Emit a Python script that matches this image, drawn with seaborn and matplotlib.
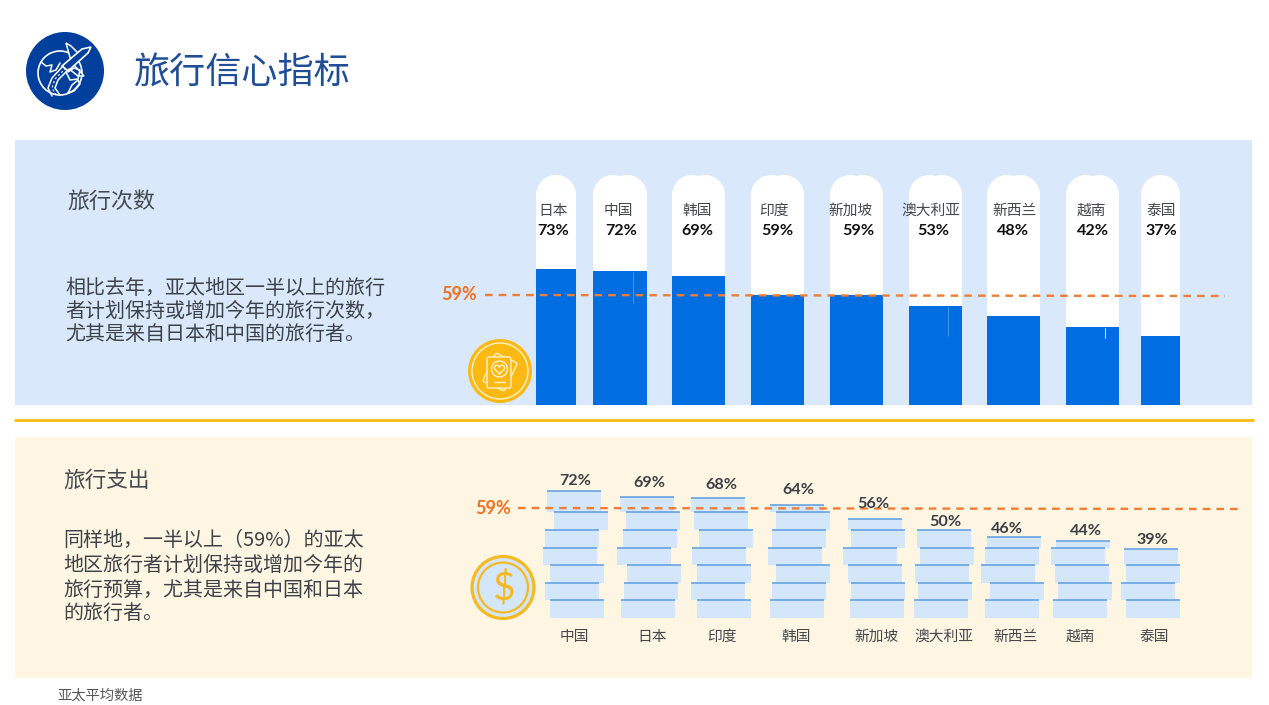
import numpy as np
import pandas as pd
import seaborn as sns
import matplotlib
matplotlib.use('Agg')
import matplotlib.pyplot as plt
from matplotlib.patches import Rectangle, Circle, FancyBboxPatch, Polygon
from matplotlib.transforms import Affine2D

# 旅行次数
trip_countries = ['日本', '中国', '韩国', '印度', '新加坡', '澳大利亚', '新西兰', '越南', '泰国']
trip_values = [73, 72, 69, 59, 59, 53, 48, 42, 37]
# 旅行支出
spend_countries = ['中国', '日本', '印度', '韩国', '新加坡', '澳大利亚', '新西兰', '越南', '泰国']
spend_values = [72, 69, 68, 64, 56, 50, 46, 44, 39]
avg_label = '59%'

# 版面位置（像素）
W, H = 1269, 705
trip_left = [536, 593, 672, 751, 830, 909, 987, 1066, 1141]
trip_right = [576, 647, 725, 804, 883, 962, 1040, 1119, 1180]
trip_name_x = [553, 618, 697, 774, 851, 931, 1015, 1091, 1161]
trip_pct_x = [553, 621, 697, 777, 858, 933, 1013, 1093, 1161]
# 每本书的左边缘，从下往上
book_left = [
    [550, 545, 550, 543, 545, 554, 547],
    [621, 624, 627, 617, 623, 626, 620],
    [697, 691, 697, 692, 699, 694, 691],
    [770, 772, 776, 768, 772, 776, 770],
    [850, 851, 848, 843, 851, 848],
    [914, 918, 915, 920, 917],
    [985, 990, 981, 985, 987],
    [1053, 1058, 1055, 1051, 1056],
    [1126, 1121, 1126, 1124],
]
book_w = 54
book_size = 10
spend_pct_x = [575, 649, 721, 798, 873, 945, 1007, 1086, 1152]
spend_pct_y = [481, 483, 485, 490, 504, 522, 529, 531, 540]
spend_name_x = [574, 652, 722, 796, 877, 944, 1016, 1080, 1154]

BLUE = '#006de0'
BOOK = '#d4e6fa'
BOOK_TOP = '#5c9ce0'
ORANGE = '#f0701e'
DASH = '#ee7d35'
YELLOW = '#fdb913'
NAVY = '#003f9c'
ICON = '#fff2c8'
CJK = ['Noto Sans CJK SC', 'DejaVu Sans']
LATIN = ['Lato', 'DejaVu Sans']

sns.set_theme(style='white')
plt.rcParams['font.family'] = CJK
plt.rcParams['axes.unicode_minus'] = False

fig = plt.figure(figsize=(W / 100, H / 100), dpi=100, facecolor='white')


def px_axes(l, t, r, b, z):
    ax = fig.add_axes([l / W, 1 - b / H, (r - l) / W, (b - t) / H], zorder=z)
    ax.patch.set_alpha(0)
    ax.set_axis_off()
    return ax


# 背景层，像素坐标
bg = px_axes(0, 0, W, H, 0)
bg.set_xlim(0, W)
bg.set_ylim(H, 0)
bg.add_patch(Rectangle((15, 140), 1237, 265, color='#d9e8fa', lw=0))
bg.add_patch(Rectangle((15, 437), 1237, 241, color='#fef6e3', lw=0))
bg.plot([15, 1253], [419.5, 419.5], color=YELLOW, lw=2, zorder=4)


# 白色胶囊，宽的是两个重叠
def capsule(x0, x1):
    r = (x1 - x0) / 2
    bg.add_patch(Circle((x0 + r, 175 + r), r, fc='white', ec='none'))
    bg.add_patch(Rectangle((x0, 175 + r), x1 - x0, 405 - 175 - r, fc='white', ec='none'))


for l, r in zip(trip_left, trip_right):
    if r - l > 45:
        capsule(l, l + 40)
        capsule(r - 40, r)
    else:
        capsule(l, r)

# 旅行次数柱子
px_per_pct = 1.864
top_ax = px_axes(0, 175, W, 405, 1)
trip_df = pd.DataFrame({
    'x': [(l + r) / 2 for l, r in zip(trip_left, trip_right)],
    'value': trip_values,
})
sns.barplot(data=trip_df, x='x', y='value', native_scale=True, color=BLUE,
            saturation=1, linewidth=0, ax=top_ax)
for p, l, r in zip(top_ax.patches, trip_left, trip_right):
    p.set_x(l)
    p.set_width(r - l)
top_ax.set_xlim(0, W)
top_ax.set_ylim(0, 230 / px_per_pct)
top_ax.set_axis_off()

# 旅行支出的书堆
px_per_pct2 = 1.76
base_y = 618
bot_ax = px_axes(0, 470, W, base_y, 1)
for k in range(7):
    idx = [i for i in range(len(spend_values)) if k < len(book_left[i])]
    centres = [book_left[i][k] + book_w / 2 for i in idx]
    # 最上面一本按剩余的百分比画
    heights = [spend_values[i] - k * book_size if k == len(book_left[i]) - 1 else book_size for i in idx]
    n0 = len(bot_ax.patches)
    sns.barplot(x=centres, y=heights, native_scale=True, color=BOOK, saturation=1,
                linewidth=0, ax=bot_ax)
    for p, i, h in zip(bot_ax.patches[n0:], idx, heights):
        p.set_x(book_left[i][k])
        p.set_width(book_w)
        p.set_y(k * book_size)
        bot_ax.plot([book_left[i][k], book_left[i][k] + book_w],
                    [k * book_size + h] * 2, color=BOOK_TOP, lw=1.1, solid_capstyle='butt')
bot_ax.set_xlim(0, W)
bot_ax.set_ylim(0, (base_y - 470) / px_per_pct2)
bot_ax.set_axis_off()

# 上层：文字、虚线、图标
fg = px_axes(0, 0, W, H, 2)
fg.set_xlim(0, W)
fg.set_ylim(H, 0)

fg.plot([485, 1225], [295, 296], color=DASH, lw=1.7, dashes=(3.2, 2.6))
fg.plot([518, 1238], [508, 509], color=DASH, lw=1.7, dashes=(3.2, 2.6))
fg.text(459, 294.5, avg_label, color=ORANGE, fontsize=13, fontweight='bold',
        family=LATIN, ha='center', va='center')
fg.text(493, 508, avg_label, color=ORANGE, fontsize=13, fontweight='bold',
        family=LATIN, ha='center', va='center')

# 柱子上的细缝
for x, y0, y1, c in [(633, 272, 303, '#4d9bec'), (948, 307, 336, '#4d9bec'), (1105, 328, 338, 'white')]:
    fg.plot([x, x], [y0, y1], color=c, lw=0.6)

fg.text(134, 73, '旅行信心指标', color='#1f4e96', fontsize=26, va='center')
fg.text(67, 202, '旅行次数', color='#454a50', fontsize=15.8, va='center')
fg.text(63, 481, '旅行支出', color='#454a50', fontsize=15.6, va='center')
for y, s in zip([288, 311, 334], ['相比去年，亚太地区一半以上的旅行',
                                  '者计划保持或增加今年的旅行次数，',
                                  '尤其是来自日本和中国的旅行者。']):
    fg.text(65, y, s, color='#3c4248', fontsize=14.4, va='center')
for y, s in zip([540, 565, 590, 613], ['同样地，一半以上（59%）的亚太',
                                       '地区旅行者计划保持或增加今年的',
                                       '旅行预算，尤其是来自中国和日本',
                                       '的旅行者。']):
    fg.text(63.5, y, s, color='#3c4248', fontsize=14.4, va='center')
fg.text(57, 696, '亚太平均数据', color='#555555', fontsize=10.3, va='center')

for name, v, nx, px in zip(trip_countries, trip_values, trip_name_x, trip_pct_x):
    fg.text(nx, 211, name, color='#44484c', fontsize=10.6, ha='center', va='center')
    fg.text(px, 231, '%d%%' % v, color='#111111', fontsize=11.6, fontweight='bold',
            family=LATIN, ha='center', va='center')
for name, v, nx, px, py in zip(spend_countries, spend_values, spend_name_x, spend_pct_x, spend_pct_y):
    fg.text(nx, 637, name, color='#44484c', fontsize=10.6, ha='center', va='center')
    fg.text(px, py, '%d%%' % v, color='#3b3f44', fontsize=11.6, fontweight='bold',
            family=LATIN, ha='center', va='center')

# 地球和飞机图标
fg.add_patch(Circle((65, 71), 39, fc=NAVY, ec='none'))
fg.add_patch(Circle((60, 73), 22, fc='none', ec='white', lw=1.2))
for xs, ys in [([41, 46, 52, 50, 56, 60], [62, 66, 65, 72, 70, 63]),
               ([66, 70, 78, 80, 74, 68], [72, 80, 79, 70, 68, 72]),
               ([68, 72, 78, 80, 74, 68], [93, 85, 80, 84, 91, 93])]:
    fg.plot(xs, ys, color='white', lw=1.1)
# 飞机尾迹
fg.plot([63, 52, 48, 52], [66, 78, 88, 96], color='white', lw=1.1)
fg.plot([69, 58, 55, 60], [69, 80, 88, 95], color='white', lw=1.1)
fg.plot([66, 55, 52, 56], [68, 79, 88, 95], color='white', lw=0.8, ls=(0, (2, 2)))
fg.add_patch(Polygon([(71, 61), (66, 43), (71, 46), (79, 54)], fc=NAVY, ec='white', lw=1.1))
fg.add_patch(Polygon([(73, 64), (84, 76), (78, 76), (68, 68)], fc=NAVY, ec='white', lw=1.1))
fg.add_patch(Polygon([(91, 47), (88, 53), (68, 71), (62, 66), (82, 49)], fc=NAVY, ec='white', lw=1.2))

# 卡片图标
fg.add_patch(Circle((500, 371), 32, fc=YELLOW, ec='none'))
fg.add_patch(Circle((500, 371), 28, fc='none', ec=ICON, lw=1))
back = FancyBboxPatch((488, 356.5), 24, 31, boxstyle='round,pad=0,rounding_size=2', fc=YELLOW, ec=ICON, lw=1,
                      transform=Affine2D().rotate_deg_around(500, 372, 25) + fg.transData)
fg.add_patch(back)
fg.add_patch(FancyBboxPatch((487, 357), 24, 31, boxstyle='round,pad=0,rounding_size=2', fc=YELLOW, ec=ICON, lw=1))
fg.add_patch(Circle((499.5, 369), 8, fc='none', ec=ICON, lw=1))
t = np.linspace(0, 2 * np.pi, 60)
fg.plot(499.5 + 0.32 * 16 * np.sin(t) ** 3,
        369 - 0.32 * (13 * np.cos(t) - 5 * np.cos(2 * t) - 2 * np.cos(3 * t) - np.cos(4 * t)),
        color=ICON, lw=1)
fg.plot([494, 505], [382, 382], color=ICON, lw=1)

# 硬币图标
fg.add_patch(Circle((503, 587.5), 31, fc=BOOK, ec='#f5b921', lw=2.3))
fg.add_patch(Circle((503, 587.5), 25, fc='none', ec='#f5b921', lw=1.6))
fg.text(503, 588, '$', color='#f5b921', fontsize=28, family='Lato', fontweight='normal',
        ha='center', va='center')

fig.savefig('out.png', dpi=100)
